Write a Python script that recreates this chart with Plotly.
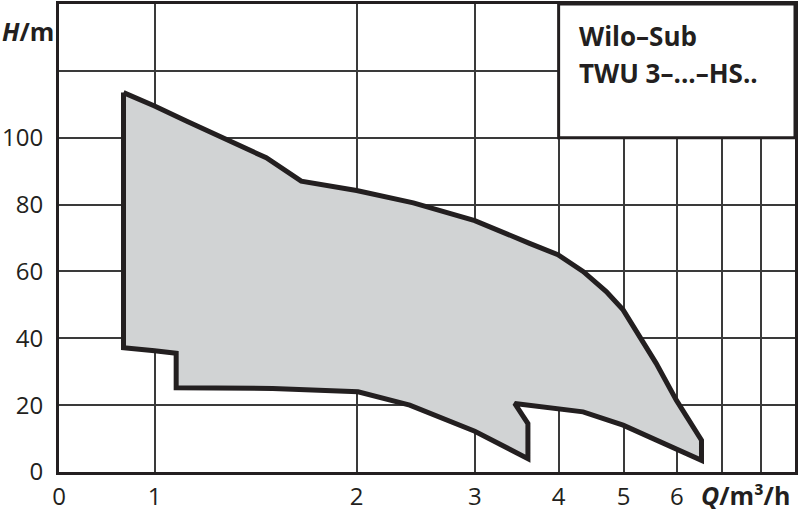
import plotly.graph_objects as go

# operating field outline, clockwise from the top-left corner
Q = [0.899, 1.0, 1.115, 1.264, 1.467, 1.654, 1.887, 2.0, 2.43, 3.0, 3.62, 3.99, 4.35,
     4.71, 4.99, 5.28, 5.59, 5.99, 6.53, 6.53, 5.99, 5.47, 4.99, 4.35, 3.99, 3.748, 3.44,
     3.60, 3.60, 3.0, 2.40, 2.01, 1.5, 1.077, 1.077, 1.0, 0.899, 0.899]
H = [113.5, 109.5, 105.0, 100.0, 94.0, 87.0, 85.0, 84.2, 80.5, 75.2, 68.4, 65.0, 60.0,
     54.0, 48.5, 40.5, 32.5, 21.5, 9.5, 3.5, 7.0, 10.3, 14.0, 18.0, 19.0, 19.8, 20.5,
     14.5, 4.0, 12.2, 20.0, 24.0, 25.0, 25.2, 35.5, 36.3, 37.2, 113.5]

Q_MIN, Q_MAX = 0.7205, 9.0
X_TICKS = [Q_MIN, 1, 2, 3, 4, 5, 6, 7, 8]
X_LABELS = ["0", "1", "2", "3", "4", "5", "6", "", ""]
Y_TICKS = [0, 20, 40, 60, 80, 100, 120]
Y_LABELS = ["0", "20", "40", "60", "80", "100", ""]

INK = "#231f20"
GRID = "#3a3a3a"
FILL = "#d1d3d4"
FONT = "Open Sans"

fig = go.Figure()
fig.add_trace(go.Scatter(
    x=Q, y=H, mode="lines", fill="toself", fillcolor=FILL,
    line=dict(color=INK, width=5), hoverinfo="skip", showlegend=False,
))

# type-designation box in the upper right corner
fig.add_shape(type="rect", xref="x", yref="y", x0=4, x1=Q_MAX,
              y0=100, y1=140, fillcolor="white", line=dict(color=INK, width=3), layer="above")

W, HT = 800, 513
ML, MR, MT, MB = 59, 5, 4, 41
pw, ph = W - ML - MR, HT - MT - MB


def px(x, y):
    return (x - ML) / pw, 1 - (y - MT) / ph


for txt, (x, y) in [("<b>Wilo–Sub</b>", (577, 36)), ("<b>TWU 3–...–HS..</b>", (577, 73))]:
    ax, ay = px(x, y)
    fig.add_annotation(xref="paper", yref="paper", x=ax, y=ay, xanchor="left", yanchor="middle",
                       text=txt, showarrow=False,
                       font=dict(family=FONT, size=26, color=INK))

ax, ay = px(0, 31)
fig.add_annotation(xref="paper", yref="paper", x=ax, y=ay, xanchor="left", yanchor="middle",
                   text="<b><i>H</i>/m</b>", showarrow=False,
                   font=dict(family=FONT, size=25, color=INK))
ax, ay = px(792, 495)
fig.add_annotation(xref="paper", yref="paper", x=ax, y=ay, xanchor="right", yanchor="middle",
                   text="<b><i>Q</i>/m³/h</b>", showarrow=False,
                   font=dict(family=FONT, size=25, color=INK))

fig.update_xaxes(type="log", range=[-0.14236, 0.95424], automargin=False,
                 tickvals=X_TICKS, ticktext=X_LABELS, showgrid=True, gridcolor=GRID, gridwidth=2,
                 showline=True, mirror=True, linecolor=INK, linewidth=3, zeroline=False,
                 ticks="", ticklabelstandoff=1, tickfont=dict(family=FONT, size=24, color=INK))
fig.update_yaxes(range=[0, 140], tickvals=Y_TICKS, ticktext=Y_LABELS, automargin=False,
                 showgrid=True, gridcolor=GRID, gridwidth=2,
                 showline=True, mirror=True, linecolor=INK, linewidth=3, zeroline=False,
                 ticks="", ticklabelstandoff=8, tickfont=dict(family=FONT, size=24, color=INK))
fig.update_layout(width=W, height=HT, margin=dict(l=ML, r=MR, t=MT, b=MB),
                  paper_bgcolor="white", plot_bgcolor="white", showlegend=False)

# drop the browser's default body margin so the figure sits at the window's corner
fig.write_html("out.html", config={"displayModeBar": False},
               post_script="document.body.style.margin = '0';")
